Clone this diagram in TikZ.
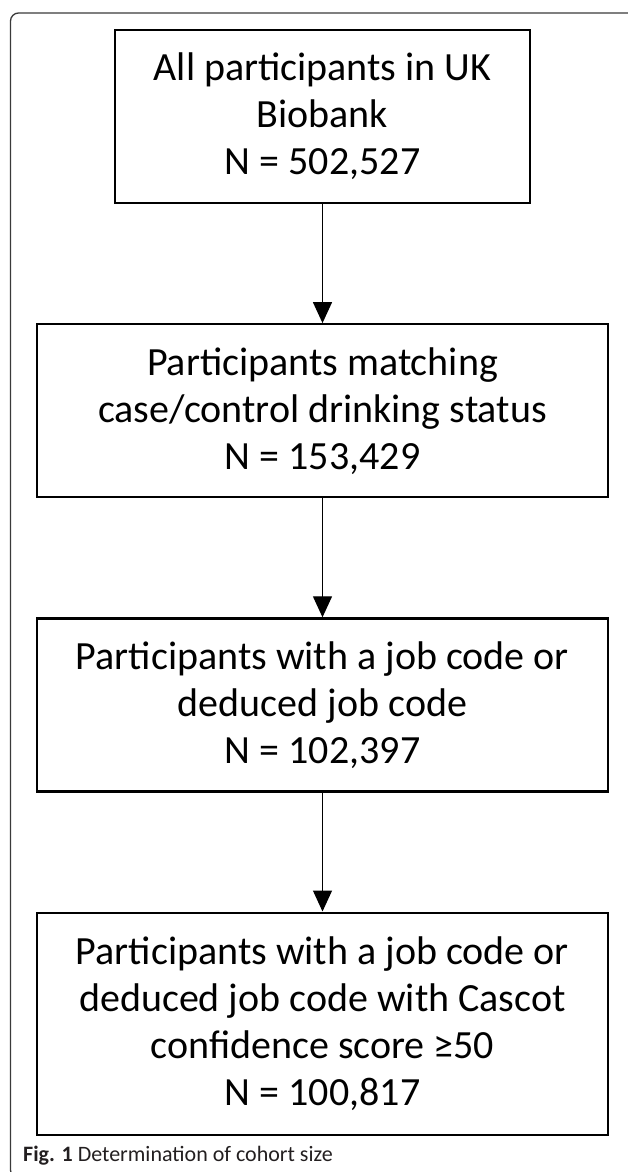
\documentclass[tikz,border=0pt]{standalone}
\usepackage{fontspec}
\setmainfont{Carlito}
\usetikzlibrary{positioning,arrows.meta}

\definecolor{Frame}{HTML}{3A3A3A}
\definecolor{Caption}{HTML}{231F20}

\begin{document}
\begin{tikzpicture}[x=1pt, y=-1pt,
  stage/.style={draw, line width=2.2pt, align=center, inner sep=0pt,
    font=\fontsize{40}{47}\selectfont, minimum height=173pt},
  flow/.style={line width=1.3pt, -{Triangle[length=21pt,width=19pt]}}]

 %%%%%%%%%% Page %%%%%%%%%%
 \useasboundingbox (0,0) rectangle (628,1172);
 \draw [line width=1.3pt, color=Frame, rounded corners=8pt] (10.5,13) rectangle (640,1178);

 %%%%%%%%%% Stages of the cohort %%%%%%%%%%
 \node [stage, minimum width=415pt] (all) at (322.5,116.5)
   {All participants in UK\\Biobank\\N = 502,527};
 \node [stage, minimum width=571pt, below=119pt of all] (drink)
   {Participants matching\\case/control drinking status\\N = 153,429};
 \node [stage, minimum width=571pt, below=119pt of drink] (job)
   {Participants with a job code or\\deduced job code\\N = 102,397};
 \node [stage, minimum width=571pt, minimum height=222pt, below=119pt of job] (cascot)
   {Participants with a job code or\\deduced job code with Cascot\\confidence score ≥50\\N = 100,817};

 %%%%%%%%%% Arrows %%%%%%%%%%
 \draw [flow] (all) -- (drink);
 \draw [flow] (drink) -- (job);
 \draw [flow] (job) -- (cascot);

 %%%%%%%%%% Caption %%%%%%%%%%
 \node [anchor=base west, inner sep=0pt, text=Caption, font=\fontsize{22}{26}\selectfont]
   (caption) at (23,1161) {\textbf{Fig. 1} Determination of cohort size};

\end{tikzpicture}
\end{document}
